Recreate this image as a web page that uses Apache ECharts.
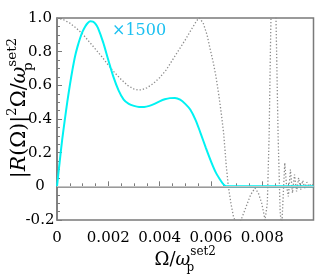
<!DOCTYPE html>
<html><head><meta charset="utf-8">
<script src="https://cdn.jsdelivr.net/npm/echarts@6/dist/echarts.min.js"></script>
<style>html,body{margin:0;padding:0;background:#fff}#c{width:332px;height:277px}</style>
</head><body><div id="c"></div>
<script>
// x values (Omega / omega_p^set2)
const cyanX = [0,0.0001,0.0002,0.0003,0.0004,0.0005,0.0006,0.0007,0.0008,0.0009,0.001,0.0011,0.0012,0.0013,0.0014,0.0015,0.0016,0.0018,0.002,0.0022,0.0024,0.0026,0.0028,0.003,0.0032,0.0034,0.0036,0.0038,0.004,0.0042,0.0044,0.0046,0.0048,0.005,0.0052,0.0054,0.0056,0.0058,0.006,0.0062,0.0064,0.0065,0.0066,0.007,0.008,0.009,0.01];
const cyanY = [0,0.14,0.275,0.39,0.5,0.6,0.69,0.77,0.83,0.88,0.92,0.95,0.97,0.98,0.978,0.965,0.94,0.855,0.75,0.65,0.57,0.515,0.49,0.478,0.472,0.472,0.478,0.49,0.505,0.517,0.524,0.525,0.515,0.49,0.455,0.395,0.315,0.23,0.15,0.08,0.03,0.01,0,0,0,0,0];
const dotX = [0,0.00025,0.0005,0.00075,0.001,0.00125,0.0015,0.00175,0.002,0.00225,0.0025,0.00275,0.003,0.00315,0.0033,0.0035,0.00375,0.004,0.00425,0.0045,0.00475,0.005,0.00525,0.00545,0.00555,0.0057,0.00585,0.00595,0.0061,0.0062,0.0063,0.0064,0.0065,0.0066,0.00668,0.00678,0.00688,0.00696,0.00705,0.00715,0.00725,0.0074,0.00755,0.00772,0.00785,0.00798,0.00806,0.00811,0.0082,0.00827,0.00833,0.00838,0.0085,0.00855,0.00862,0.0087,0.00876,0.00882,0.00888,0.00895,0.00902,0.0091,0.00918,0.00926,0.00934,0.00942,0.0095,0.00958,0.00966,0.00974,0.00982,0.0099,0.01];
const dotY = [1.0,0.99,0.97,0.94,0.905,0.86,0.815,0.77,0.72,0.675,0.635,0.6,0.578,0.572,0.573,0.585,0.61,0.645,0.69,0.75,0.81,0.87,0.935,0.985,1.0,0.97,0.9,0.83,0.73,0.65,0.55,0.44,0.31,0.12,0.0,-0.1,-0.18,-0.21,-0.22,-0.21,-0.17,-0.11,-0.05,-0.01,-0.04,-0.1,-0.16,-0.2,-0.1,0.3,0.9,1.3,1.3,0.9,0.3,-0.15,-0.25,-0.05,0.14,0.0,-0.06,0.1,-0.04,0.07,-0.03,0.05,-0.02,0.035,-0.01,0.025,0.0,0.015,0.005];
const zeroLineY = 0;
const xTickValues = [0,0.002,0.004,0.006,0.008];
const xTickLabels = ['0','0.002','0.004','0.006','0.008'];
const yTickValues = [-0.2,0,0.2,0.4,0.6,0.8,1.0];
const yTickLabels = ['-0.2','0','0.2','0.4','0.6','0.8','1.0'];
const annotation = '×1500';

const SERIF = '"DejaVu Serif", "Liberation Serif", serif';
function richSet(base, small, lh) {
  return {
    n: {fontFamily: SERIF, fontSize: base, lineHeight: lh, color: '#000'},
    i: {fontFamily: SERIF, fontStyle: 'italic', fontSize: base, lineHeight: lh, color: '#000'},
    sup: {fontFamily: SERIF, fontSize: small, lineHeight: small + 4, verticalAlign: 'top', color: '#000'},
    supn: {fontFamily: SERIF, fontSize: small, lineHeight: small + 2, verticalAlign: 'top', color: '#000'},
    sub: {fontFamily: SERIF, fontSize: small, lineHeight: small + 2, verticalAlign: 'bottom', width: 0, color: '#000'}
  };
}

function fmt(vals, labels) {
  return function (v) {
    for (let k = 0; k < vals.length; k++) if (Math.abs(vals[k] - v) < 1e-9) return labels[k];
    return '';
  };
}

const chart = echarts.init(document.getElementById('c'), null, {renderer: 'canvas'});
chart.setOption({
  animation: false,
  backgroundColor: '#fff',
  grid: {left: 57, right: 18.5, top: 18, bottom: 57, containLabel: false, outerBoundsMode: 'none',
    show: true, borderColor: '#7a7a7a', borderWidth: 1.5, backgroundColor: 'transparent'},
  xAxis: {
    type: 'value', min: 0, max: 0.01, interval: 0.002,
    axisLine: {show: true, lineStyle: {color: '#7a7a7a', width: 1.5}},
    axisTick: {show: true, inside: true, length: 5, lineStyle: {color: '#7a7a7a', width: 1}},
    minorTick: {show: true, splitNumber: 4, length: 3, lineStyle: {color: '#7a7a7a', width: 1}},
    splitLine: {show: false},
    axisLabel: {showMaxLabel: false, margin: 11, fontFamily: SERIF, fontSize: 15, color: '#000', formatter: fmt(xTickValues, xTickLabels)},
    name: '{n|Ω/}{i|ω}{sub|p}{sup|set2}',
    nameLocation: 'middle', nameGap: 26, nameMoveOverlap: false,
    nameTextStyle: {rich: richSet(18, 12, 28)}
  },
  yAxis: {
    type: 'value', min: -0.2, max: 1.0, interval: 0.2,
    axisLine: {show: true, lineStyle: {color: '#7a7a7a', width: 1.5}},
    axisTick: {show: true, inside: true, length: 5, lineStyle: {color: '#7a7a7a', width: 1}},
    minorTick: {show: true, splitNumber: 4, length: 3, lineStyle: {color: '#7a7a7a', width: 1}},
    splitLine: {show: false},
    axisLabel: {margin: 17, align: 'center', fontFamily: SERIF, fontSize: 15, color: '#000', formatter: fmt(yTickValues, yTickLabels)},
    name: '{n||}{i|R}{n|(Ω)|}{supn|2}{n|Ω/}{i|ω}{sub|p}{sup|set2}',
    nameLocation: 'middle', nameGap: 22, nameRotate: 90, nameMoveOverlap: false,
    nameTextStyle: {rich: richSet(20.5, 13.5, 30), padding: [0, 0, 0, 22]}
  },
  graphic: [{
    type: 'text', left: 112, top: 23, silent: true,
    style: {text: annotation, font: '16px "DejaVu Serif", "Liberation Serif", serif', fill: '#1cc0f0'}
  }],
  series: [
    {
      type: 'line', data: dotX.map((x, k) => [x, dotY[k]]), showSymbol: false, clip: true, z: 2,
      lineStyle: {color: '#8c8c8c', width: 1.3, type: [1.3, 2]},
      markLine: {silent: true, symbol: 'none', label: {show: false}, animation: false,
        lineStyle: {color: '#c4c4c4', width: 1, type: 'solid'}, data: [{yAxis: zeroLineY}]}
    },
    {
      type: 'line', data: cyanX.map((x, k) => [x, cyanY[k]]), showSymbol: false, clip: true, z: 3,
      smooth: 0.3,
      lineStyle: {color: '#00f2f2', width: 2}
    }
  ]
});
</script></body></html>
